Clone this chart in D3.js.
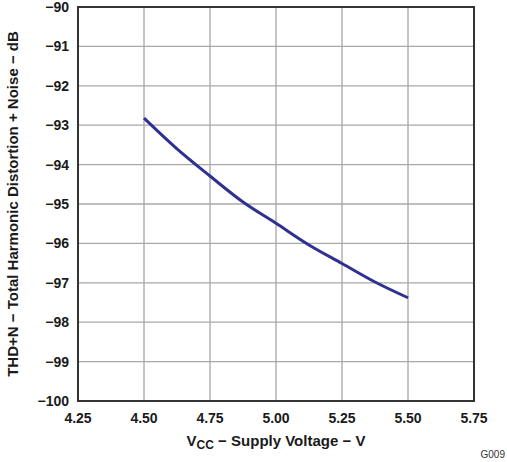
<!DOCTYPE html>
<html lang="en">
  <head>
    <meta charset="utf-8">
    <title>THD+N vs Supply Voltage</title>
    <script src="https://cdn.jsdelivr.net/npm/d3@7"></script>
    <style>
      body { margin: 0; background: #fff; }
      svg text { font-family: "Liberation Sans", Arial, sans-serif; }
    </style>
  </head>
  <body>
    <svg id="chart" width="507" height="462"></svg>
  <script>
  // supply voltage (V) and THD+N (dB)
  var voltage = [4.50, 4.625, 4.75, 4.875, 5.00, 5.125, 5.25, 5.375, 5.50]
  var thdn    = [-92.82, -93.60, -94.29, -94.95, -95.49, -96.04, -96.51, -96.98, -97.38]

  var xTicks = [4.25, 4.50, 4.75, 5.00, 5.25, 5.50, 5.75]
  var yTicks = [-90, -91, -92, -93, -94, -95, -96, -97, -98, -99, -100]

  var svg = d3.select("#chart"),
      margin = {top: 7, left: 78, bottom: 61, right: 33},
      width = +svg.attr("width"),
      height = +svg.attr("height");

  var x = d3.scaleLinear()
      .domain([4.25, 5.75])
      .range([margin.left, width - margin.right])

  var y = d3.scaleLinear()
      .domain([-90, -100])
      .range([margin.top, height - margin.bottom])

  // grid
  svg.append("g").selectAll("line")
      .data(xTicks.slice(1, -1))
      .enter().append("line")
      .attr("x1", d => x(d)).attr("x2", d => x(d))
      .attr("y1", y(-90)).attr("y2", y(-100))
      .attr("stroke", "#8a8a8a")
      .attr("stroke-width", 1)

  svg.append("g").selectAll("line")
      .data(yTicks.slice(1, -1))
      .enter().append("line")
      .attr("x1", x(4.25)).attr("x2", x(5.75))
      .attr("y1", d => y(d)).attr("y2", d => y(d))
      .attr("stroke", "#a8a8a8")
      .attr("stroke-width", 1.3)

  // curve
  var line = d3.line()
      .x((d, i) => x(voltage[i]))
      .y(d => y(d))
      .curve(d3.curveMonotoneX)

  svg.append("path")
      .datum(thdn)
      .attr("d", line)
      .attr("fill", "none")
      .attr("stroke", "#2e3192")
      .attr("stroke-width", 3)

  // frame
  svg.append("rect")
      .attr("x", x(4.25)).attr("y", y(-90))
      .attr("width", x(5.75) - x(4.25))
      .attr("height", y(-100) - y(-90))
      .attr("fill", "none")
      .attr("stroke", "#333")
      .attr("stroke-width", 2)

  // tick labels
  svg.append("g").selectAll("text")
      .data(yTicks)
      .enter().append("text")
      .attr("x", x(4.25) - 9)
      .attr("y", d => y(d))
      .attr("dy", "0.36em")
      .attr("text-anchor", "end")
      .style("font-size", "14px")
      .style("font-weight", "bold")
      .style("fill", "#1a1a1a")
      .text(d => d.toString().replace("-", "\u2212"))

  svg.append("g").selectAll("text")
      .data(xTicks)
      .enter().append("text")
      .attr("x", d => x(d))
      .attr("y", y(-100) + 22)
      .attr("text-anchor", "middle")
      .style("font-size", "14px")
      .style("font-weight", "bold")
      .style("fill", "#1a1a1a")
      .text(d => d.toFixed(2))

  // axis titles
  var xt = svg.append("text")
      .attr("x", (x(4.25) + x(5.75)) / 2)
      .attr("y", 446)
      .attr("text-anchor", "middle")
      .style("font-size", "15px")
      .style("font-weight", "bold")
      .style("fill", "#1a1a1a")
  xt.append("tspan").text("V")
  xt.append("tspan").attr("dy", 3).style("font-size", "12px").text("CC")
  xt.append("tspan").attr("dy", -3).text(" \u2212 Supply Voltage \u2212 V")

  svg.append("text")
      .attr("transform", "rotate(-90)")
      .attr("x", -(y(-90) + y(-100)) / 2)
      .attr("y", 18)
      .attr("text-anchor", "middle")
      .style("font-size", "15px")
      .style("font-weight", "bold")
      .style("fill", "#1a1a1a")
      .text("THD+N \u2212 Total Harmonic Distortion + Noise \u2212 dB")

  svg.append("text")
      .attr("x", 505)
      .attr("y", 458)
      .attr("text-anchor", "end")
      .style("font-size", "10px")
      .style("fill", "#333")
      .text("G009")
  </script>
  </body>
</html>
